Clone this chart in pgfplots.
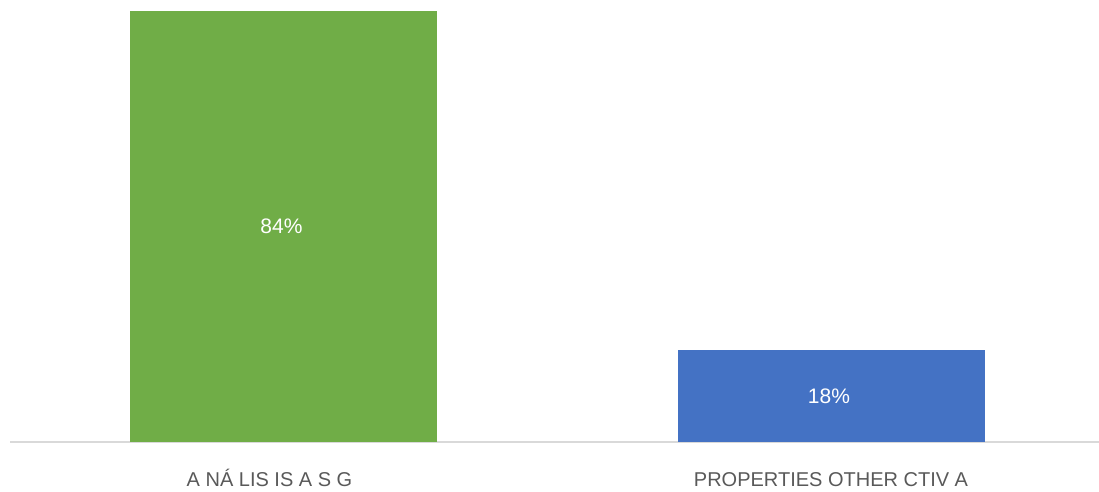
\documentclass[border=0pt]{standalone}
\usepackage{pgfplots}
\pgfplotsset{compat=1.18}
\usepackage{fontspec}
\setmainfont{Liberation Sans}
\definecolor{cgreen}{HTML}{70AD47}
\definecolor{cblue}{HTML}{4472C4}
\definecolor{ctext}{HTML}{595959}
\definecolor{caxis}{HTML}{D9D9D9}
\begin{document}
\begin{tikzpicture}[x=1pt,y=1pt]
\begin{axis}[
  at={(10pt,49pt)}, anchor=south west,
  scale only axis, width=1089pt, height=442pt,
  xmin=-0.4995, xmax=1.4895, ymin=0, ymax=86.14,
  axis x line=bottom, axis y line=none,
  x axis line style={-, draw=caxis, line width=1.5pt},
  xtick={0,1}, xticklabels={A NÁ LIS IS A S G\kern28pt\null, PROPERTIES OTHER CTIV A},
  xtick style={draw=none},
  xticklabel style={font=\fontsize{20}{24}\selectfont, text=ctext, anchor=base, yshift=-42pt, inner sep=0pt},
  /pgf/number format/assume math mode=true,
  nodes near coords={\pgfmathprintnumber{\pgfplotspointmeta}\%},
  visualization depends on={rawy \as \rawy},
  every node near coord/.append style={font=\fontsize{21}{25}\selectfont, text=white, anchor=center, xshift=-2pt, shift={(axis direction cs:0,-\rawy/2)}},
  clip=false,
]
\addplot[ybar, bar width=307pt, fill=cgreen, draw=none] coordinates {(0,84)};
\addplot[ybar, bar width=307pt, fill=cblue, draw=none] coordinates {(1,18)};
\end{axis}
\pgfresetboundingbox
\useasboundingbox (0,0) rectangle (1099pt,491pt);
\end{tikzpicture}
\end{document}
